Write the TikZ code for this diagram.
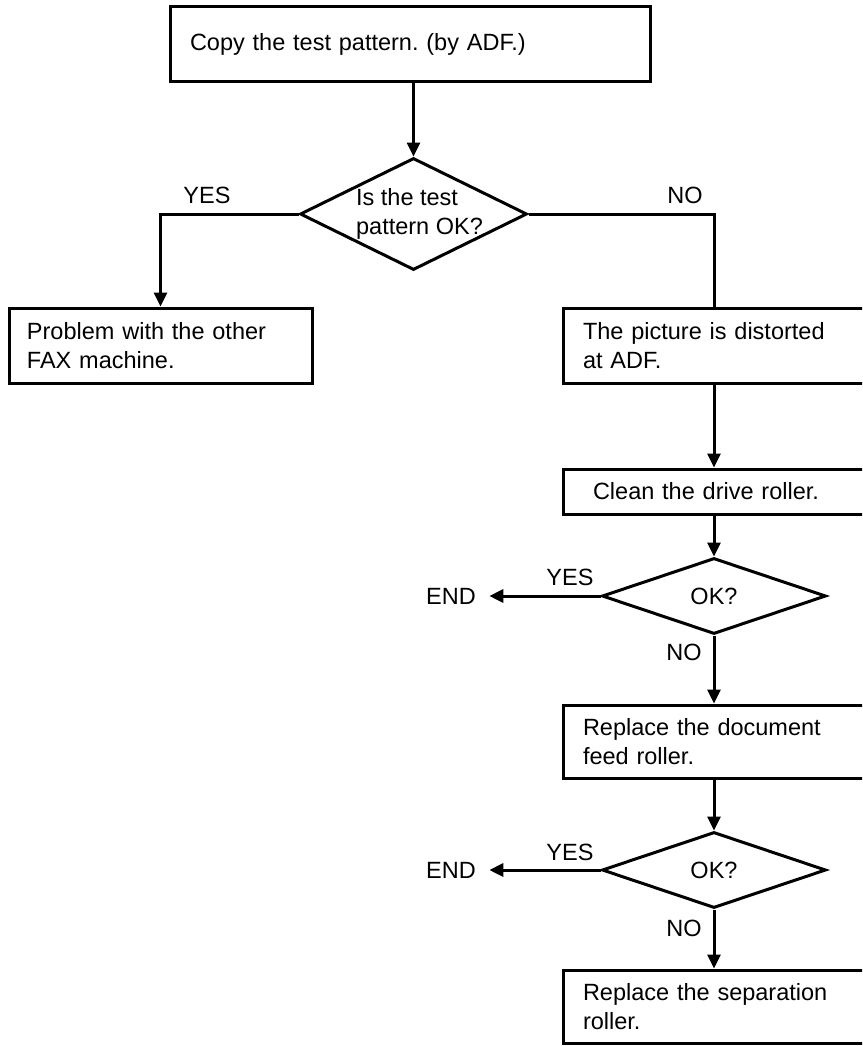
\documentclass[tikz,border=0pt]{standalone}
\usepackage{fontspec}
\setmainfont{Liberation Sans}
\usetikzlibrary{shapes.geometric,arrows.meta}
\frenchspacing

\begin{document}
\begin{tikzpicture}[x=1pt, y=-1pt, line width=3pt,
    every node/.style={font=\fontsize{23.5}{29}\selectfont},
    main/.style={draw, rectangle, align=left, minimum height=75pt, inner xsep=20pt, inner ysep=0pt},
    ask/.style={draw, diamond, inner sep=0pt, align=left},
    arr/.style={-{Triangle[length=14pt,width=13pt]}}]
    \useasboundingbox (0,0) rectangle (862,1046);
    \clip (0,0) rectangle (862,1046);

    % boxes
    \node[main, minimum width=480pt, text width=440pt] (1) at (410,44.5) {Copy the test pattern. (by ADF.)};
    \node[main, minimum width=303pt, text width=267pt, inner xsep=18pt] (2) at (160.5,345.5) {Problem with the other\\FAX machine.};
    \node[main, minimum width=327pt, text width=287pt] (3) at (726.5,345.5) {The picture is distorted\\at ADF.};
    \node[main, minimum width=327pt, minimum height=45pt, text width=267pt, inner xsep=30pt] (4) at (726.5,491.5) {Clean the drive roller.};
    \node[main, minimum width=327pt, minimum height=73pt, text width=287pt] (5) at (726.5,741.5) {Replace the document\\feed roller.};
    \node[main, minimum width=327pt, minimum height=73pt, text width=287pt] (6) at (726.5,1006.5) {Replace the separation\\roller.};

    % questions
    \node[ask, minimum width=227pt, minimum height=112pt, aspect=2, inner sep=-6pt] (q1) at (413.5,214) {\hspace*{12pt}Is the test\\\hspace*{12pt}pattern OK?};
    \node[ask, minimum width=224pt, minimum height=76pt, aspect=2.95] (q2) at (714,596) {OK?};
    \node[ask, minimum width=224pt, minimum height=76pt, aspect=2.95] (q3) at (714,870) {OK?};

    \node[inner xsep=12pt] (e1) at (451,596) {END};
    \node[inner xsep=12pt] (e2) at (451,870) {END};

    \node (y1) at (207,195) {YES};
    \node (n1) at (685,195) {NO};
    \node (y2) at (570,577) {YES};
    \node (n2) at (684,652) {NO};
    \node (y3) at (570,852) {YES};
    \node (n3) at (684,928) {NO};

    \draw[arr] (1.south -| q1.north) -- (q1.north);
    \draw[arr] (q1.west) -| (2.north);
    \draw (q1.east) -| (3.north -| q2.north);
    \draw[arr] (3.south -| q2.north) -- (4.north -| q2.north);
    \draw[arr] (4.south -| q2.north) -- (q2.north);
    \draw[arr] (q2.west) -- (e1.east);
    \draw[arr] (q2.south) -- (5.north -| q2.south);
    \draw[arr] (5.south -| q3.north) -- (q3.north);
    \draw[arr] (q3.west) -- (e2.east);
    \draw[arr] (q3.south) -- (6.north -| q3.south);

\end{tikzpicture}
\end{document}
